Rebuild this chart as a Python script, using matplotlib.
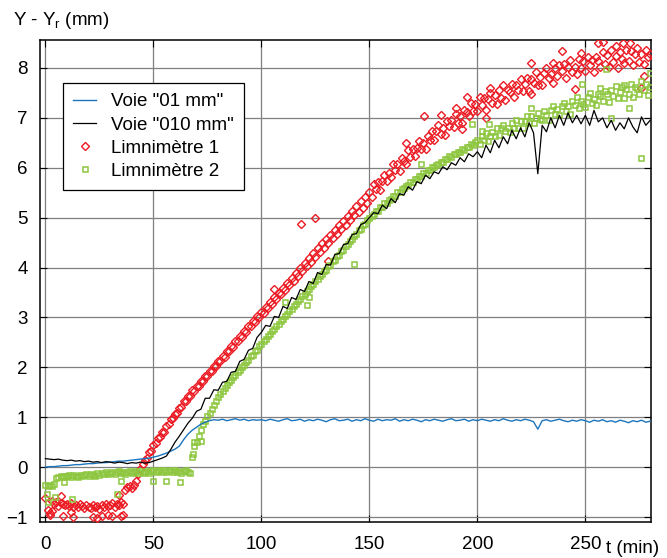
import matplotlib.pyplot as plt
import numpy as np

plt.rcParams['font.family'] = ['Liberation Sans', 'DejaVu Sans']

# temps (min)
t_voie = np.arange(0, 281, 2)
t_limni = np.arange(0, 281, 1)

# Voie "01 mm" (une valeur toutes les 2 min)
voie_01 = [
    0.00, 0.01, 0.01, 0.02, 0.03, 0.03, 0.04, 0.05, 0.05, 0.06,
    0.07, 0.07, 0.08, 0.09, 0.09, 0.10, 0.11, 0.12, 0.12, 0.13,
    0.14, 0.15, 0.16, 0.17, 0.18, 0.20, 0.22, 0.25, 0.28, 0.32,
    0.36, 0.42, 0.55, 0.66, 0.74, 0.80, 0.86, 0.90, 0.93, 0.95,
    0.94, 0.96, 0.93, 0.95, 0.97, 0.94, 0.96, 0.93, 0.95, 0.94,
    0.95, 0.93, 0.96, 0.94, 0.92, 0.95, 0.97, 0.93, 0.94, 0.96,
    0.92, 0.95, 0.93, 0.96, 0.94, 0.91, 0.95, 0.97, 0.93, 0.94,
    0.96, 0.92, 0.95, 0.93, 0.97, 0.94, 0.92, 0.96, 0.93, 0.95,
    0.94, 0.97, 0.92, 0.95, 0.93, 0.96, 0.94, 0.91, 0.95, 0.93,
    0.96, 0.94, 0.92, 0.95, 0.97, 0.93, 0.94, 0.96, 0.92, 0.95,
    0.93, 0.96, 0.94, 0.92, 0.95, 0.93, 0.97, 0.94, 0.92, 0.95,
    0.93, 0.96, 0.94, 0.91, 0.76, 0.93, 0.95, 0.92, 0.94, 0.96,
    0.93, 0.91, 0.94, 0.92, 0.95, 0.93, 0.90, 0.94, 0.92, 0.95,
    0.91, 0.93, 0.90, 0.94, 0.92, 0.89, 0.93, 0.91, 0.94, 0.90,
    0.92,
]

# Voie "010 mm"
voie_010 = [
    0.17, 0.16, 0.15, 0.16, 0.14, 0.13, 0.14, 0.12, 0.13, 0.11,
    0.12, 0.10, 0.11, 0.09, 0.11, 0.10, 0.08, 0.10, 0.09, 0.07,
    0.09, 0.08, 0.10, 0.08, 0.09,
    0.12, 0.15, 0.18, 0.22, 0.35, 0.50, 0.62, 0.75, 0.88, 0.98,
    1.12, 1.16, 1.38, 1.38, 1.55, 1.54, 1.70, 1.72, 1.90, 1.92,
    2.12, 2.16, 2.34, 2.38, 2.60,
    2.70, 2.84, 2.82, 3.02, 3.00, 3.22, 3.18, 3.40, 3.36, 3.56,
    3.52, 3.72, 3.68, 3.90, 3.86, 4.06, 4.05, 4.26, 4.28, 4.46,
    4.48, 4.66, 4.68, 4.86, 4.90,
    5.00, 5.10, 5.08, 5.25, 5.18, 5.38, 5.30, 5.48, 5.45, 5.62,
    5.55, 5.72, 5.68, 5.85, 5.78, 5.92, 5.88, 6.02, 5.96, 6.10,
    6.05, 6.20, 6.12, 6.28, 6.22,
    6.32, 6.20, 6.45, 6.30, 6.55, 6.40, 6.62, 6.48, 6.75, 6.58,
    6.80, 6.62, 6.90, 6.70, 5.88, 6.85, 6.72, 7.00, 6.80, 7.05,
    6.85, 7.10, 6.90, 7.05, 6.88,
    7.05, 6.85, 7.15, 6.92, 7.00, 6.80, 6.95, 6.75, 6.90, 6.78,
    7.00, 6.82, 6.70, 7.02, 6.85, 6.95,
]

# Limnimètre 1 (une valeur par minute)
limni_1 = [
    -0.62, -0.85, -0.92, -0.68, -0.74, -0.70, -0.77, -0.71, -0.73, -0.76,
    -0.74, -0.78, -0.72, -0.79, -0.75, -0.80, -0.73, -0.77, -0.81, -0.76,
    -0.80, -0.82, -0.76, -0.79, -0.78, -0.83, -0.75, -0.79, -0.74, -0.78,
    -0.75, -0.72, -0.79, -0.73, -0.76, -0.70, -0.74, -0.46, -0.40, -0.38,
    -0.42, -0.35, -0.28, -0.14, -0.04, 0.06, 0.14, 0.18, 0.30, 0.33,
    0.44, 0.48, 0.58, 0.60, 0.70, 0.71, 0.82, 0.86, 0.97, 0.98,
    1.07, 1.08, 1.18, 1.20, 1.32, 1.33, 1.42, 1.43, 1.55, 1.53,
    1.63, 1.62, 1.73, 1.72, 1.83, 1.82, 1.93, 1.92, 2.03, 2.02,
    2.13, 2.12, 2.23, 2.21, 2.33, 2.32, 2.43, 2.41, 2.53, 2.52,
    2.63, 2.61, 2.73, 2.71, 2.83, 2.82, 2.93, 2.90, 3.03, 3.00,
    3.11, 3.08, 3.21, 3.18, 3.30, 3.27, 3.40, 3.37, 3.49, 3.46,
    3.59, 3.55, 3.69, 3.64, 3.79, 3.74, 3.89, 3.84, 3.99, 3.93,
    4.09, 4.03, 4.19, 4.12, 4.29, 4.22, 4.39, 4.31, 4.49, 4.40,
    4.58, 4.50, 4.66, 4.60, 4.75, 4.68, 4.85, 4.78, 4.93, 4.86,
    5.04, 4.95, 5.13, 5.05, 5.23, 5.12, 5.33, 5.20, 5.42, 5.30,
    5.52, 5.42, 5.68, 5.57, 5.72, 5.56, 5.74, 5.86, 5.74, 5.89,
    5.82, 6.07, 5.96, 6.08, 5.94, 6.19, 6.14, 6.08, 6.36, 6.22,
    6.38, 6.23, 6.40, 6.53, 6.37, 6.49, 6.38, 6.64, 6.56, 6.73,
    6.55, 6.73, 6.85, 6.68, 6.79, 6.66, 6.93, 6.83, 6.96, 6.81,
    7.07, 6.90, 7.03, 6.89, 7.16, 7.11, 7.03, 7.30, 7.14, 7.28,
    7.13, 7.42, 7.25, 7.39, 7.15, 7.38, 7.49, 7.30, 7.46, 7.28,
    7.55, 7.40, 7.66, 7.36, 7.56, 7.51, 7.68, 7.41, 7.66, 7.55,
    7.77, 7.54, 7.68, 7.80, 7.54, 7.78, 7.69, 7.92, 7.65, 7.81,
    7.66, 7.90, 7.99, 7.80, 7.88, 7.70, 8.00, 7.83, 8.06, 7.93,
    8.07, 7.80, 8.02, 8.16, 7.91, 8.02, 7.88, 8.17, 7.99, 8.13,
    7.93, 8.22, 8.05, 8.16, 7.92, 8.22, 8.13, 8.02, 8.31, 8.08,
    8.25, 8.01, 8.36, 8.11, 8.23, 7.99, 8.32, 8.18, 8.09, 8.35,
    8.14, 8.33, 8.06, 8.28, 8.40, 8.12, 8.27, 8.07, 8.35, 8.22,
    8.28,
]

# Limnimètre 2
limni_2 = [
    -0.35, -0.38, -0.36, -0.37, -0.34, -0.22, -0.19, -0.18, -0.20, -0.17,
    -0.18, -0.15, -0.19, -0.16, -0.17, -0.19, -0.15, -0.18, -0.16, -0.14,
    -0.17, -0.13, -0.16, -0.18, -0.12, -0.15, -0.11, -0.14, -0.10, -0.13,
    -0.11, -0.09, -0.13, -0.10, -0.08, -0.12, -0.09, -0.13, -0.10, -0.08,
    -0.12, -0.09, -0.07, -0.11, -0.08, -0.12, -0.09, -0.07, -0.11, -0.08,
    -0.06, -0.10, -0.07, -0.05, -0.09, -0.06, -0.10, -0.07, -0.05, -0.09,
    -0.06, -0.10, -0.07, -0.11, -0.08, -0.06, -0.10, -0.12, 0.20, 0.42,
    0.50, 0.62, 0.74, 0.86, 0.92, 1.02, 1.08, 1.17, 1.24, 1.33,
    1.40, 1.46, 1.52, 1.59, 1.64, 1.71, 1.75, 1.81, 1.85, 1.91,
    1.95, 2.01, 2.05, 2.11, 2.15, 2.22, 2.25, 2.33, 2.35, 2.43,
    2.47, 2.53, 2.57, 2.63, 2.67, 2.73, 2.77, 2.83, 2.87, 2.93,
    2.97, 3.03, 3.07, 3.13, 3.17, 3.23, 3.27, 3.33, 3.37, 3.43,
    3.47, 3.53, 3.57, 3.63, 3.67, 3.73, 3.77, 3.83, 3.87, 3.93,
    3.96, 4.03, 4.05, 4.13, 4.15, 4.23, 4.25, 4.33, 4.35, 4.43,
    4.47, 4.53, 4.57, 4.63, 4.67, 4.75, 4.77, 4.85, 4.87, 4.95,
    4.99, 5.04, 5.07, 5.13, 5.14, 5.21, 5.21, 5.29, 5.29, 5.36,
    5.37, 5.43, 5.44, 5.51, 5.51, 5.57, 5.59, 5.63, 5.65, 5.71,
    5.71, 5.77, 5.77, 5.83, 5.84, 5.89, 5.89, 5.95, 5.95, 6.01,
    6.01, 6.06, 6.07, 6.12, 6.12, 6.18, 6.17, 6.23, 6.22, 6.28,
    6.27, 6.32, 6.32, 6.37, 6.36, 6.42, 6.41, 6.47, 6.45, 6.52,
    6.56, 6.48, 6.64, 6.56, 6.70, 6.54, 6.64, 6.72, 6.63, 6.79,
    6.65, 6.79, 6.86, 6.73, 6.80, 6.71, 6.89, 6.80, 6.96, 6.80,
    6.94, 6.79, 6.94, 7.04, 6.89, 7.03, 6.89, 7.00, 7.10, 6.97,
    6.95, 7.14, 7.06, 6.95, 7.16, 7.23, 7.07, 7.17, 7.06, 7.24,
    7.30, 7.13, 7.24, 7.08, 7.33, 7.25, 7.41, 7.20, 7.34, 7.28,
    7.22, 7.41, 7.50, 7.30, 7.38, 7.25, 7.48, 7.43, 7.33, 7.54,
    7.48, 7.31, 7.55, 7.44, 7.64, 7.39, 7.51, 7.61, 7.40, 7.57,
    7.47, 7.67, 7.42, 7.62, 7.57, 7.47, 7.73, 7.55, 7.68, 7.46,
    7.62,
]

# points isolés
limni_1_isoles_t = [2, 3, 7, 8, 12, 13, 22, 24, 26, 29, 31, 34, 35, 36,
                    106, 118.5, 125, 131, 167, 175.5, 183, 190, 193, 195,
                    204, 206, 225, 225, 235, 239, 245, 248, 256, 258,
                    264, 267.6, 270.6, 276, 277]
limni_1_isoles_y = [-0.95, -0.88, -0.58, -0.98, -0.90, -1.00, -1.00, -1.02, -0.98, -0.95, -0.98, -0.55, -0.97, -0.95,
                    3.57, 4.88, 5.00, 4.14, 6.50, 7.04, 7.06, 7.20, 6.78, 7.42,
                    7.00, 7.60, 8.10, 7.48, 8.10, 8.34, 7.58, 8.30, 8.50, 8.52,
                    8.44, 8.50, 8.50, 7.60, 7.84]
limni_2_isoles_t = [0.8, 1.3, 4.6, 8.8, 12.3, 33, 35, 50, 56, 62.5, 68.5, 69, 72,
                    111, 121, 122, 143, 174, 197.7, 202, 205.6, 225, 248.6,
                    257, 259.7, 261.7, 268, 270, 276, 280]
limni_2_isoles_y = [-0.53, -0.70, -0.60, -0.30, -0.64, -0.53, -0.28, -0.27, -0.27, -0.30, 0.27, 0.50, 0.52,
                    3.30, 3.24, 3.40, 4.08, 6.08, 6.88, 6.74, 6.88, 7.20, 7.68,
                    7.60, 7.98, 7.00, 7.66, 7.20, 6.20, 7.90]

rouge = '#ec1c24'
vert = '#8dc63f'
bleu = '#1c75bc'

fig = plt.figure(figsize=(6.67, 5.58), dpi=100)
ax = fig.add_axes([40 / 667, 1 - 522 / 558, 611 / 667, 482 / 558])

l1, = ax.plot(t_voie, voie_01, color=bleu, lw=1.0, zorder=4)
l2, = ax.plot(t_voie, voie_010, color='black', lw=0.9, zorder=4)
m1, = ax.plot(t_limni, limni_1, ls='none', marker='D', ms=3.6, mfc='none',
              mec=rouge, mew=1.0, zorder=3)
ax.plot(limni_1_isoles_t, limni_1_isoles_y, ls='none', marker='D', ms=3.6,
        mfc='none', mec=rouge, mew=1.0, zorder=3)
m2, = ax.plot(t_limni, limni_2, ls='none', marker='s', ms=3.6, mfc='none',
              mec=vert, mew=1.1, zorder=3)
ax.plot(limni_2_isoles_t, limni_2_isoles_y, ls='none', marker='s', ms=3.6,
        mfc='none', mec=vert, mew=1.1, zorder=3)

ax.set_xlim(-2.5, 280.4)
ax.set_ylim(-1.1, 8.56)
ax.set_xticks([0, 50, 100, 150, 200, 250])
ax.set_yticks(range(-1, 9))
ax.grid(True, color='#7f7f7f', lw=0.9)
ax.set_axisbelow(True)
ax.tick_params(direction='in', top=True, right=True, length=5,
               labelsize=13.5, colors='black')
ax.tick_params(axis='x', pad=10)
ax.tick_params(axis='y', pad=9)
for s in ax.spines.values():
    s.set_linewidth(1.1)

leg = ax.legend([l1, l2, m1, m2],
                ['Voie "01 mm"', 'Voie "010 mm"', 'Limnimètre 1', 'Limnimètre 2'],
                loc='upper left', bbox_to_anchor=(23 / 611, 1 - 43 / 482),
                borderaxespad=0, fontsize=13.5, numpoints=1, handlelength=1.2,
                fancybox=False, framealpha=1, edgecolor='black',
                labelspacing=0.32, handletextpad=0.8, borderpad=0.55)
leg.get_frame().set_linewidth(0.9)

fig.text(13 / 667, 1 - 25 / 558, 'Y - Y$_\\mathregular{r}$ (mm)', fontsize=13.5,
         va='baseline', ha='left')
fig.text(606 / 667, 1 - 553 / 558, 't (min)', fontsize=13.5,
         va='baseline', ha='left')

fig.savefig('out.png', dpi=100)
